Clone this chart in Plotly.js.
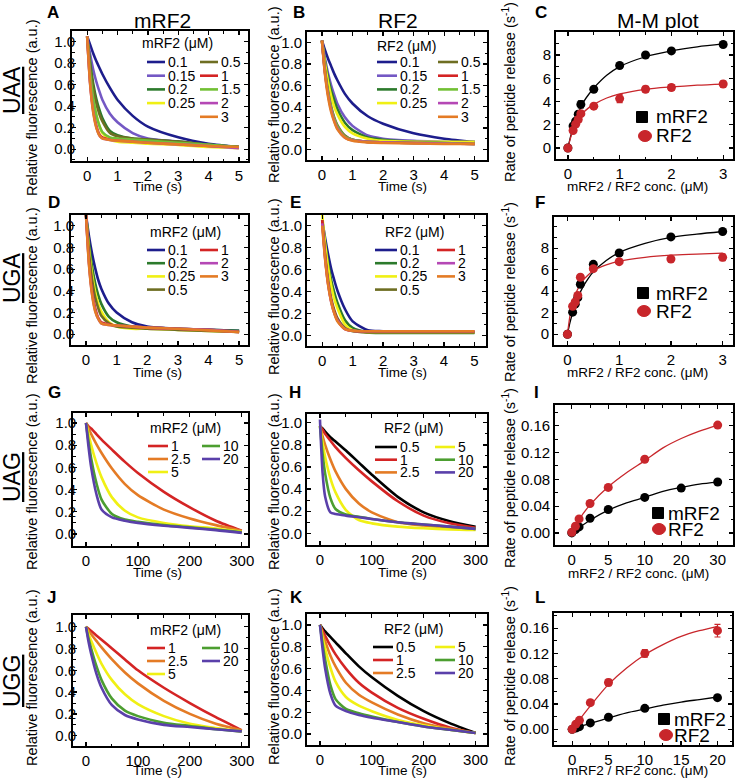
<!DOCTYPE html>
<html><head><meta charset="utf-8">
<script src="https://cdn.plot.ly/plotly-3.0.1.min.js"></script>
<style>html,body{margin:0;padding:0;background:#fff}#chart{position:relative;width:738px;height:778px;overflow:hidden}
#chart>div{position:absolute;left:0;top:0;width:738px;height:778px}</style>
</head><body><div id="chart"></div>
<script>
// ================= DATA =================
const tShort = [0, 0.1, 0.2, 0.3, 0.4, 0.5, 0.75, 1, 1.5, 2, 3, 4, 5];
const tLong  = [0, 5, 10, 20, 30, 50, 75, 100, 150, 200, 250, 300];

const uaaMrf2Conc = ['0.1','0.15','0.2','0.25','0.5','1','1.5','2','3'];
const uaaMrf2Fluor = [
  [1.05,0.97,0.89,0.82,0.76,0.70,0.57,0.46,0.31,0.21,0.11,0.05,0.02],
  [1.05,0.88,0.74,0.63,0.54,0.46,0.33,0.25,0.15,0.10,0.07,0.04,0.02],
  [1.05,0.80,0.61,0.47,0.37,0.29,0.17,0.13,0.10,0.09,0.07,0.04,0.02],
  [1.05,0.70,0.47,0.32,0.22,0.15,0.09,0.07,0.06,0.05,0.04,0.02,0.01],
  [1.05,0.77,0.57,0.43,0.33,0.26,0.15,0.12,0.10,0.09,0.07,0.04,0.02],
  [1.05,0.62,0.37,0.22,0.14,0.11,0.09,0.085,0.075,0.065,0.05,0.03,0.02],
  [1.05,0.70,0.47,0.32,0.22,0.16,0.11,0.10,0.09,0.08,0.06,0.04,0.02],
  [1.05,0.60,0.35,0.21,0.13,0.10,0.085,0.08,0.07,0.06,0.045,0.03,0.01],
  [1.05,0.60,0.34,0.20,0.13,0.10,0.085,0.08,0.07,0.06,0.045,0.03,0.02]
];
const uaaRf2Conc = ['0.1','0.15','0.2','0.25','0.5','1','1.5','2','3'];
const uaaRf2Fluor = [
  [1.02,0.93,0.85,0.78,0.71,0.65,0.52,0.43,0.31,0.24,0.15,0.10,0.07],
  [1.02,0.85,0.71,0.60,0.51,0.43,0.30,0.22,0.13,0.10,0.08,0.07,0.06],
  [1.02,0.82,0.67,0.55,0.46,0.38,0.25,0.18,0.11,0.09,0.07,0.06,0.06],
  [1.02,0.80,0.63,0.50,0.40,0.33,0.21,0.15,0.10,0.08,0.07,0.07,0.07],
  [1.02,0.74,0.54,0.40,0.30,0.23,0.13,0.09,0.07,0.065,0.06,0.06,0.05],
  [1.02,0.72,0.52,0.38,0.28,0.21,0.12,0.09,0.07,0.065,0.06,0.055,0.05],
  [1.02,0.73,0.53,0.39,0.29,0.22,0.12,0.09,0.07,0.065,0.06,0.06,0.05],
  [1.02,0.71,0.51,0.37,0.27,0.20,0.11,0.085,0.07,0.065,0.06,0.055,0.05],
  [1.02,0.70,0.49,0.35,0.26,0.19,0.11,0.08,0.065,0.06,0.055,0.05,0.05]
];
const ugaMrf2Conc = ['0.1','0.2','0.25','0.5','1','2','3'];
const ugaMrf2Fluor = [
  [1.10,0.90,0.74,0.61,0.50,0.42,0.28,0.20,0.11,0.07,0.05,0.04,0.03],
  [1.10,0.83,0.62,0.47,0.36,0.28,0.16,0.11,0.07,0.06,0.05,0.04,0.03],
  [1.10,0.78,0.55,0.39,0.28,0.21,0.11,0.07,0.05,0.05,0.04,0.03,0.02],
  [1.10,0.74,0.50,0.34,0.24,0.17,0.10,0.07,0.06,0.05,0.04,0.03,0.02],
  [1.10,0.66,0.39,0.24,0.15,0.11,0.09,0.08,0.07,0.06,0.05,0.04,0.02],
  [1.10,0.64,0.37,0.22,0.14,0.10,0.085,0.08,0.07,0.06,0.05,0.04,0.02],
  [1.10,0.63,0.36,0.21,0.14,0.10,0.085,0.08,0.07,0.06,0.05,0.035,0.02]
];
const ugaRf2Conc = ['0.1','0.2','0.25','0.5','1','2','3'];
const ugaRf2Fluor = [
  [1.05,0.88,0.73,0.60,0.50,0.41,0.24,0.13,0.05,0.04,0.03,0.03,0.03],
  [1.05,0.83,0.65,0.50,0.39,0.30,0.14,0.07,0.03,0.025,0.025,0.025,0.025],
  [1.10,0.82,0.61,0.45,0.33,0.25,0.10,0.05,0.03,0.03,0.03,0.03,0.03],
  [1.05,0.72,0.49,0.33,0.23,0.16,0.07,0.04,0.03,0.03,0.03,0.03,0.03],
  [1.05,0.70,0.46,0.31,0.21,0.14,0.06,0.045,0.04,0.04,0.04,0.04,0.04],
  [1.02,0.69,0.46,0.30,0.20,0.14,0.06,0.045,0.04,0.04,0.04,0.04,0.04],
  [1.00,0.68,0.45,0.30,0.20,0.13,0.06,0.045,0.04,0.04,0.04,0.04,0.04]
];
const uagMrf2Conc = ['1','2.5','5','10','20'];
const uagMrf2Fluor = [
  [1.0,0.97,0.95,0.90,0.85,0.76,0.65,0.55,0.38,0.24,0.12,0.03],
  [1.0,0.95,0.90,0.81,0.73,0.59,0.45,0.35,0.22,0.14,0.08,0.03],
  [1.0,0.90,0.80,0.64,0.51,0.33,0.21,0.15,0.10,0.07,0.05,0.02],
  [1.0,0.83,0.68,0.46,0.31,0.18,0.13,0.11,0.08,0.06,0.04,0.015],
  [1.0,0.78,0.60,0.36,0.22,0.15,0.12,0.10,0.075,0.055,0.035,0.01]
];
const uagRf2Conc = ['0.5','1','2.5','5','10','20'];
const uagRf2Fluor = [
  [0.97,0.95,0.92,0.87,0.83,0.75,0.64,0.53,0.33,0.19,0.11,0.06],
  [0.97,0.94,0.90,0.84,0.78,0.68,0.57,0.47,0.29,0.16,0.09,0.05],
  [0.97,0.88,0.80,0.67,0.56,0.40,0.27,0.19,0.10,0.07,0.05,0.04],
  [0.97,0.82,0.69,0.50,0.37,0.21,0.12,0.09,0.06,0.045,0.035,0.03],
  [0.97,0.72,0.54,0.32,0.22,0.17,0.15,0.13,0.10,0.08,0.06,0.04],
  [1.03,0.55,0.33,0.19,0.175,0.16,0.145,0.13,0.10,0.08,0.06,0.04]
];
const uggMrf2Conc = ['1','2.5','5','10','20'];
const uggMrf2Fluor = [
  [1.0,0.98,0.96,0.92,0.88,0.80,0.70,0.60,0.44,0.30,0.17,0.05],
  [1.0,0.96,0.93,0.87,0.81,0.70,0.58,0.48,0.32,0.20,0.11,0.05],
  [1.0,0.93,0.87,0.76,0.66,0.51,0.38,0.29,0.18,0.11,0.07,0.04],
  [1.0,0.89,0.80,0.64,0.51,0.34,0.23,0.18,0.12,0.09,0.06,0.04],
  [1.0,0.86,0.75,0.57,0.44,0.28,0.19,0.15,0.10,0.08,0.06,0.04]
];
const uggRf2Conc = ['0.5','1','2.5','5','10','20'];
const uggRf2Fluor = [
  [1.0,0.97,0.94,0.89,0.84,0.74,0.62,0.52,0.35,0.21,0.10,0.01],
  [1.0,0.95,0.90,0.81,0.73,0.60,0.47,0.38,0.24,0.14,0.06,0.01],
  [1.0,0.92,0.85,0.72,0.62,0.47,0.36,0.29,0.18,0.10,0.05,0.01],
  [1.0,0.88,0.78,0.61,0.48,0.34,0.26,0.21,0.13,0.08,0.04,0.01],
  [1.0,0.83,0.68,0.45,0.32,0.23,0.19,0.16,0.11,0.07,0.04,0.01],
  [1.0,0.78,0.60,0.37,0.26,0.21,0.175,0.15,0.11,0.07,0.04,0.01]
];

const uaaMmConc   = [0, 0.1, 0.15, 0.2, 0.25, 0.5, 1, 1.5, 2, 3];
const uaaMmMrf2   = [0, 1.9, 2.3, 2.9, 3.75, 5.05, 7.1, 8.0, 8.35, 8.9];
const uaaMmMrf2Er = [0.05, 0.1, 0.1, 0.15, 0.3, 0.15, 0.15, 0.1, 0.1, 0.1];
const uaaMmRf2    = [0, 1.5, 2.05, 2.45, 2.95, 3.6, 4.25, 5.05, 5.2, 5.5];
const uaaMmRf2Er  = [0.05, 0.1, 0.15, 0.2, 0.2, 0.15, 0.35, 0.25, 0.25, 0.25];
const uaaFitConc  = [0, 0.05, 0.1, 0.15, 0.2, 0.3, 0.4, 0.5, 0.75, 1, 1.5, 2, 2.5, 3];
const uaaFitMrf2  = [0, 0.95, 1.75, 2.45, 3.0, 3.95, 4.6, 5.15, 6.25, 7.0, 7.85, 8.35, 8.7, 8.95];
const uaaFitRf2   = [0, 0.85, 1.55, 2.05, 2.5, 3.05, 3.45, 3.75, 4.3, 4.65, 5.05, 5.25, 5.4, 5.5];
const ugaMmConc   = [0, 0.1, 0.15, 0.2, 0.25, 0.5, 1, 2, 3];
const ugaMmMrf2   = [0, 2.05, 2.8, 3.4, 4.65, 6.5, 7.55, 9.05, 9.55];
const ugaMmMrf2Er = [0.05, 0.1, 0.1, 0.15, 0.2, 0.15, 0.15, 0.2, 0.1];
const ugaMmRf2    = [0, 2.6, 3.0, 3.6, 5.3, 6.1, 6.75, 7.0, 7.15];
const ugaMmRf2Er  = [0.05, 0.1, 0.1, 0.15, 0.2, 0.2, 0.1, 0.2, 0.3];
const ugaFitConc  = [0, 0.05, 0.1, 0.15, 0.2, 0.3, 0.4, 0.5, 0.75, 1, 1.5, 2, 2.5, 3];
const ugaFitMrf2  = [0, 1.1, 2.0, 2.75, 3.4, 4.4, 5.18, 5.8, 6.85, 7.6, 8.45, 9.0, 9.3, 9.55];
const ugaFitRf2   = [0, 1.75, 2.85, 3.65, 4.2, 5.0, 5.5, 5.9, 6.45, 6.8, 7.15, 7.35, 7.45, 7.55];
const uagMmConcMrf2 = [0, 0.5, 1, 2.5, 5, 10, 20, 30];
const uagMmMrf2     = [0, 0.005, 0.009, 0.022, 0.035, 0.053, 0.067, 0.076];
const uagMmMrf2Er   = [0.001, 0.001, 0.001, 0.001, 0.001, 0.001, 0.001, 0.001];
const uagMmConcRf2  = [0, 0.5, 1, 2.5, 5, 10, 30];
const uagMmRf2      = [0.001, 0.010, 0.021, 0.044, 0.068, 0.110, 0.161];
const uagMmRf2Er    = [0.001, 0.001, 0.002, 0.002, 0.003, 0.003, 0.003];
const uagFitConc    = [0, 1, 2.5, 5, 7.5, 10, 15, 20, 25, 30];
const uagFitMrf2    = [0, 0.008, 0.019, 0.034, 0.045, 0.053, 0.062, 0.068, 0.073, 0.076];
const uagFitRf2     = [0, 0.02, 0.042, 0.069, 0.09, 0.108, 0.127, 0.141, 0.152, 0.161];
const uagTickVals   = [0, 5, 10, 20, 30];
const uggMmConc   = [0, 0.5, 1, 2.5, 5, 10, 20];
const uggMmMrf2   = [0, 0.002, 0.004, 0.010, 0.019, 0.033, 0.050];
const uggMmMrf2Er = [0.001, 0.001, 0.001, 0.001, 0.001, 0.001, 0.002];
const uggMmRf2    = [0, 0.008, 0.014, 0.042, 0.074, 0.120, 0.156];
const uggMmRf2Er  = [0.001, 0.001, 0.002, 0.003, 0.005, 0.006, 0.010];
const uggFitConc  = [0, 1, 2.5, 5, 7.5, 10, 12.5, 15, 17.5, 20];
const uggFitMrf2  = [0, 0.004, 0.009, 0.018, 0.026, 0.032, 0.038, 0.043, 0.047, 0.051];
const uggFitRf2   = [0, 0.015, 0.037, 0.071, 0.097, 0.118, 0.134, 0.147, 0.156, 0.163];

// ================= STYLE / LAYOUT =================
const FONT = 'Arial, "Liberation Sans", Helvetica, sans-serif';
const W = 738, H = 778;
const px = x => x / W, py = y => 1 - y / H;
const colShort = {'0.1':'#1d1d8c','0.15':'#7458c4','0.2':'#2c7a2c','0.25':'#f0f014','0.5':'#6e6e22',
                  '1':'#d42424','1.5':'#72c034','2':'#b548b5','3':'#e47b25'};
const colLong = {'0.5':'#000000','1':'#d42424','2.5':'#e47b25','5':'#f0f014','10':'#4c9e30','20':'#5a40aa'};
const BLACK = '#000000', RED = '#c8262b';
const brk = x => x <= 10 ? x : 10 + (x - 10) / 2;

const charts = [];
let cur = null;
function newChart() { cur = {traces: [], shapes: [], annotations: [], axes: {}}; charts.push(cur); }

function ax(extra) {
  return Object.assign({showline: true, linecolor: '#000', linewidth: 1.8, mirror: 'ticks', ticks: 'inside', ticklen: 4,
    tickwidth: 1.3, tickcolor: '#000',
    showgrid: false, zeroline: false, tickfont: {family: FONT, size: 15, color: '#000'}}, extra);
}
function minorTicks(d) { return {ticks: 'inside', ticklen: 2.5, dtick: d, tickwidth: 1, tickcolor: '#000'}; }
function setAxes(box, xa, ya) {
  cur.axes.xaxis = ax(Object.assign({domain: [px(box[0]), px(box[1])], anchor: 'y'}, xa));
  cur.axes.yaxis = ax(Object.assign({domain: [py(box[3]), py(box[2])], anchor: 'x'}, ya));
  if (box[0] < 100) cur.axes.yaxis.ticklabelstandoff = -8;
}
function ann(x, y, text, opt) {
  cur.annotations.push(Object.assign({x: px(x), y: py(y), xref: 'paper', yref: 'paper', text: text,
    showarrow: false, xanchor: 'center', yanchor: 'middle', font: {size: 14}}, opt));
}

function decayPanel(box, xr, yr, long, t, labels, curves, colors, leg) {
  newChart();
  const xa = long ? {tickvals: [0, 100, 200, 300], minor: minorTicks(50)} : {dtick: 1, minor: minorTicks(0.5)};
  setAxes(box, Object.assign({range: xr}, xa), {range: yr, dtick: 0.2, tickformat: '.1f', minor: minorTicks(0.1)});
  curves.forEach((c, i) => cur.traces.push({
    type: 'scatter', mode: 'lines', x: t, y: c,
    line: {color: colors[labels[i]], width: 2.6, shape: 'spline', smoothing: 0.7}, hoverinfo: 'skip'
  }));
  ann(leg.tx, leg.ty, leg.title, {xanchor: 'left'});
  leg.cols.forEach(col => col.items.forEach((idx, r) => {
    const y = leg.y0 + r * leg.dy;
    cur.shapes.push({type: 'line', xref: 'paper', yref: 'paper', x0: px(col.x0), x1: px(col.x1), y0: py(y), y1: py(y),
      line: {color: colors[labels[idx]], width: 2.6}});
    ann(col.tx, y, labels[idx], {xanchor: 'left'});
  }));
}

function mmPanel(box, xa, ya, pts, fits, leg) {
  newChart();
  setAxes(box, xa, ya);
  fits.forEach(f => cur.traces.push({type: 'scatter', mode: 'lines', x: f.x, y: f.y,
    line: {color: f.c, width: 1.3, shape: 'spline', smoothing: 0.8}, hoverinfo: 'skip'}));
  pts.forEach(p => cur.traces.push({type: 'scatter', mode: 'markers', x: p.x, y: p.y,
    marker: {color: p.c, size: 9},
    error_y: {type: 'data', array: p.e, visible: true, color: p.c, thickness: 1.2, width: 3}, hoverinfo: 'skip'}));
  cur.shapes.push({type: 'rect', xref: 'paper', yref: 'paper', x0: px(leg.sx - 5.5), x1: px(leg.sx + 5.5),
    y0: py(leg.sy + 5.5), y1: py(leg.sy - 5.5), fillcolor: BLACK, line: {color: BLACK, width: 1}});
  cur.shapes.push({type: 'circle', xref: 'paper', yref: 'paper', x0: px(leg.cx - 6.5), x1: px(leg.cx + 6.5),
    y0: py(leg.cy + 5.5), y1: py(leg.cy - 5.5), fillcolor: RED, line: {color: RED, width: 1}});
  ann(leg.tx, leg.sy, 'mRF2', {xanchor: 'left', font: {size: 19}});
  ann(leg.tx, leg.cy, 'RF2', {xanchor: 'left', font: {size: 19}});
}

decayPanel([72,248,31,161], [-0.5,5.3], [-0.11,1.1], false, tShort, uaaMrf2Conc, uaaMrf2Fluor, colShort,
  {title: 'mRF2 (μM)', tx: 140, ty: 43, y0: 62, dy: 13.7,
   cols: [{x0:147, x1:165, tx:166, items:[0,1,2,3]}, {x0:200, x1:218, tx:219, items:[4,5,6,7,8]}]});
decayPanel([307,487,32,160], [-0.49,5.4], [-0.10,1.10], false, tShort, uaaRf2Conc, uaaRf2Fluor, colShort,
  {title: 'RF2 (μM)', tx: 375, ty: 46, y0: 62, dy: 13.7,
   cols: [{x0:377, x1:397, tx:398, items:[0,1,2,3]}, {x0:438, x1:458, tx:459, items:[4,5,6,7,8]}]});
mmPanel([556,733,32,159],
  {range: [-0.23,3.19], dtick: 1, minor: minorTicks(0.5)},
  {range: [-0.95,9.98], tickvals: [0,2,4,6,8], minor: minorTicks(1)},
  [{x: uaaMmConc, y: uaaMmMrf2, e: uaaMmMrf2Er, c: BLACK}, {x: uaaMmConc, y: uaaMmRf2, e: uaaMmRf2Er, c: RED}],
  [{x: uaaFitConc, y: uaaFitMrf2, c: BLACK}, {x: uaaFitConc, y: uaaFitRf2, c: RED}],
  {sx: 642, sy: 117, cx: 645, cy: 136, tx: 654});
decayPanel([71,248,215,345], [-0.49,5.29], [-0.10,1.10], false, tShort, ugaMrf2Conc, ugaMrf2Fluor, colShort,
  {title: 'mRF2 (μM)', tx: 148, ty: 232, y0: 250, dy: 13.2,
   cols: [{x0:147, x1:165, tx:166, items:[0,1,2,3]}, {x0:200, x1:218, tx:219, items:[4,5,6]}]});
decayPanel([307,486,215,346], [-0.50,5.38], [-0.094,1.097], false, tShort, ugaRf2Conc, ugaRf2Fluor, colShort,
  {title: 'RF2 (μM)', tx: 383, ty: 232, y0: 250, dy: 13.2,
   cols: [{x0:375, x1:397, tx:398, items:[0,1,2,3]}, {x0:437, x1:455, tx:456, items:[4,5,6]}]});
mmPanel([554,733,217,345],
  {range: [-0.26,3.2], dtick: 1, minor: minorTicks(0.5)},
  {range: [-1.0,10.9], tickvals: [0,2,4,6,8], minor: minorTicks(1)},
  [{x: ugaMmConc, y: ugaMmMrf2, e: ugaMmMrf2Er, c: BLACK}, {x: ugaMmConc, y: ugaMmRf2, e: ugaMmRf2Er, c: RED}],
  [{x: ugaFitConc, y: ugaFitMrf2, c: BLACK}, {x: ugaFitConc, y: ugaFitRf2, c: RED}],
  {sx: 643, sy: 293, cx: 644, cy: 311, tx: 654});
decayPanel([73,248,413,546], [-25,312], [-0.108,1.09], true, tLong, uagMrf2Conc, uagMrf2Fluor, colLong,
  {title: 'mRF2 (μM)', tx: 148, ty: 428, y0: 446, dy: 13,
   cols: [{x0:148, x1:168, tx:169, items:[0,1,2]}, {x0:202, x1:220, tx:221, items:[3,4]}]});
decayPanel([307,487,414,545], [-25,322], [-0.106,1.08], true, tLong, uagRf2Conc, uagRf2Fluor, colLong,
  {title: 'RF2 (μM)', tx: 382, ty: 428, y0: 447, dy: 12.7,
   cols: [{x0:375, x1:397, tx:398, items:[0,1,2]}, {x0:435, x1:455, tx:456, items:[3,4,5]}]});
mmPanel([555,733,405,545],
  {range: [-2.3,22.1], tickvals: uagTickVals.map(brk), ticktext: uagTickVals.map(String), minor: minorTicks(2.5)},
  {range: [-0.018,0.191], dtick: 0.04, tickformat: '.2f', minor: minorTicks(0.02)},
  [{x: uagMmConcMrf2.map(brk), y: uagMmMrf2, e: uagMmMrf2Er, c: BLACK}, {x: uagMmConcRf2.map(brk), y: uagMmRf2, e: uagMmRf2Er, c: RED}],
  [{x: uagFitConc.map(brk), y: uagFitMrf2, c: BLACK}, {x: uagFitConc.map(brk), y: uagFitRf2, c: RED}],
  {sx: 658, sy: 513, cx: 659, cy: 529, tx: 666});
decayPanel([73,248,615,746], [-25,312], [-0.094,1.107], true, tLong, uggMrf2Conc, uggMrf2Fluor, colLong,
  {title: 'mRF2 (μM)', tx: 148, ty: 630, y0: 648, dy: 13,
   cols: [{x0:147, x1:165, tx:166, items:[0,1,2]}, {x0:202, x1:220, tx:221, items:[3,4]}]});
decayPanel([307,487,614,745], [-25,322], [-0.10,1.10], true, tLong, uggRf2Conc, uggRf2Fluor, colLong,
  {title: 'RF2 (μM)', tx: 382, ty: 629, y0: 647, dy: 13,
   cols: [{x0:373, x1:393, tx:394, items:[0,1,2]}, {x0:435, x1:455, tx:456, items:[3,4,5]}]});
mmPanel([554,732,613,745],
  {range: [-2.5,22.0], dtick: 5, minor: minorTicks(2.5)},
  {range: [-0.025,0.184], dtick: 0.04, tickformat: '.2f', minor: minorTicks(0.02)},
  [{x: uggMmConc, y: uggMmMrf2, e: uggMmMrf2Er, c: BLACK}, {x: uggMmConc, y: uggMmRf2, e: uggMmRf2Er, c: RED}],
  [{x: uggFitConc, y: uggFitMrf2, c: BLACK}, {x: uggFitConc, y: uggFitRf2, c: RED}],
  {sx: 664, sy: 719, cx: 666, cy: 735, tx: 672});

// global texts on their own chart without axes
newChart();
cur.axes = {xaxis: {visible: false}, yaxis: {visible: false}};
[['A',53,12],['B',299,12],['C',541,12],['D',54,202],['E',295,202],['F',540,202],
 ['G',54,392],['H',295,392],['I',536,392],['J',51,597],['K',296,597],['L',540,597]]
 .forEach(([t,x,y]) => ann(x, y, '<b>' + t + '</b>', {font: {size: 17}}));
[['mRF2',162],['RF2',398],['M-M plot',658]].forEach(([t,x]) => ann(x, 21, t, {font: {size: 21}}));
[['UAA',90],['UGA',278],['UAG',477],['UGG',681]].forEach(([t,y]) =>
  ann(12, y, t, {textangle: -90, font: {size: 23, lineposition: 'under'}}));
const yFluo = 'Relative fluorescence (a.u.)';
const yRate = 'Rate of peptide release (s<sup>-1</sup>)';
const xConc = 'mRF2 / RF2 conc. (μM)';
[[32,108],[32,296],[32,482],[32,678]].forEach(([x,y]) => ann(x, y, yFluo, {textangle: -90, font: {size: 14.5}}));
[[274,95],[274,287],[274,482],[274,677]].forEach(([x,y]) => ann(x, y, yFluo, {textangle: -90, font: {size: 14.5}}));
[[509,92],[509,292],[509,478],[509,676]].forEach(([x,y]) => ann(x, y, yRate, {textangle: -90, font: {size: 14.5}}));
[[157,186],[402,186],[157,372],[402,372],[157,572],[402,572],[157,770],[402,770]]
  .forEach(([x,y]) => ann(x, y, 'Time (s)', {font: {size: 13.5}}));
[[637,186],[637,372],[638,573],[637,770]].forEach(([x,y]) => ann(x, y, xConc, {font: {size: 13.5}}));

const host = document.getElementById('chart');
charts.forEach(c => {
  const div = document.createElement('div');
  host.appendChild(div);
  const layout = Object.assign({
    width: W, height: H, margin: {l: 0, r: 0, t: 0, b: 0}, showlegend: false,
    paper_bgcolor: 'rgba(0,0,0,0)', plot_bgcolor: 'rgba(0,0,0,0)',
    font: {family: FONT, color: '#000', size: 14},
    shapes: c.shapes, annotations: c.annotations
  }, c.axes);
  Plotly.newPlot(div, c.traces, layout, {staticPlot: true, displayModeBar: false});
});
</script>
</body></html>
